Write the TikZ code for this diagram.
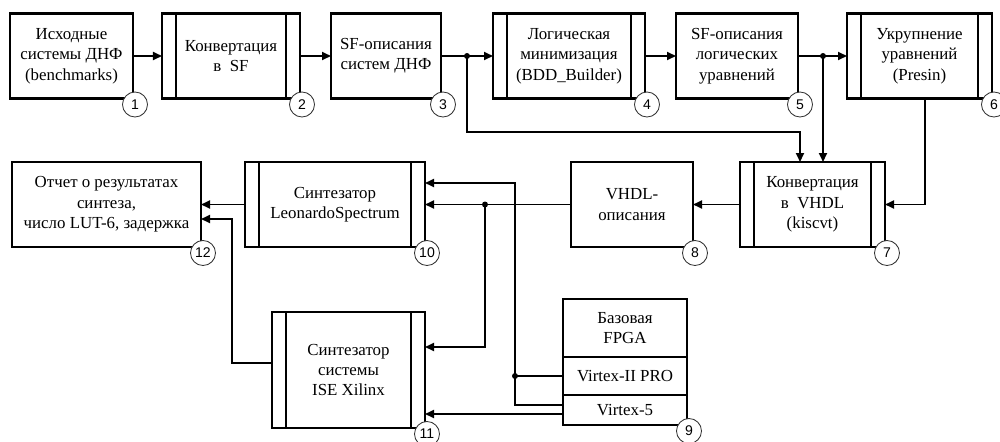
\documentclass[tikz,border=0pt]{standalone}
\usepackage{fontspec}
\setmainfont{Liberation Serif}
\newfontfamily\numfont{Liberation Sans}
\usetikzlibrary{arrows.meta}
\newlength\px
\setlength\px{0.025cm}
\tikzset{
  box/.style={draw, line width=1.5pt, align=center, inner sep=1pt, outer sep=0pt,
    minimum height=85\px, font=\fontsize{12}{14.5}\selectfont},
  procbox/.style={box, path picture={
    \draw[line width=1.3pt]
      ([xshift=14\px]path picture bounding box.north west) -- ([xshift=14\px]path picture bounding box.south west)
      ([xshift=-14\px]path picture bounding box.north east) -- ([xshift=-14\px]path picture bounding box.south east);}},
  numc/.style={circle, draw=black!80, line width=0.6pt, fill=white, minimum size=25\px,
    inner sep=0pt, font=\numfont\fontsize{10}{10}\selectfont},
  link/.style={line width=1.4pt},
  arr/.style={link, -{Triangle[length=0.225cm,width=0.2cm]}},
  jdot/.style={circle, fill, inner sep=0pt, minimum size=6\px},
}
\newcommand{\stepno}[2]{\path (#1.south east) ++(2,6) node[numc] {#2};}
\begin{document}
\begin{tikzpicture}[x=0.025cm, y=-0.025cm]
\useasboundingbox (0,0) rectangle (1000,441);
% upper row
\node[box, minimum width=123\px] (src) at (71.5,56) {Исходные\\системы ДНФ\\(benchmarks)};
\node[procbox, minimum width=138\px] (conv) at (231,56) {Конвертация\\в~~SF};
\node[box, minimum width=110\px] (sfdnf) at (386,56) {SF-описания\\систем ДНФ};
\node[procbox, minimum width=152\px] (minim) at (569,56) {Логическая\\минимизация\\(BDD\_Builder)};
\node[box, minimum width=122\px] (sfeq) at (737,56) {SF-описания\\логических\\уравнений};
\node[procbox, minimum width=145\px] (presin) at (919.5,56) {Укрупнение\\уравнений\\(Presin)};
% middle row
\node[procbox, minimum width=145\px] (kiscvt) at (812.5,204.5) {Конвертация\\в~~VHDL\\(kiscvt)};
\node[box, minimum width=122\px] (vhdl) at (632,204.5) {VHDL-\\описания};
\node[procbox, minimum width=180\px] (leo) at (335,204.5) {Синтезатор\\LeonardoSpectrum};
\node[box, minimum width=189\px] (report) at (106.5,204.5) {Отчет о результатах\\синтеза,\\число LUT-6, задержка};
% lower row
\node[procbox, minimum width=153\px, minimum height=116\px] (ise) at (348.5,370) {Синтезатор\\системы\\ISE Xilinx};
\node[box, minimum width=124\px, minimum height=58\px] (fpga) at (625,328) {Базовая\\FPGA};
\node[box, minimum width=124\px, minimum height=38\px, anchor=north] (v2) at (fpga.south) {Virtex-II PRO};
\node[box, minimum width=124\px, minimum height=30\px, anchor=north] (v5) at (v2.south) {Virtex-5};
% turning points
\coordinate (j1) at (467,56);
\coordinate (j2) at (823,56);
\coordinate (j3) at (485,204.5);
\coordinate (j4) at (515,376);
\coordinate (k1) at (800,132);
\coordinate (k2) at (925,204.5);
\coordinate (k3) at (485,347);
\coordinate (k4) at (515,405);
\coordinate (k5) at (515,183);
\coordinate (k6) at (563,414);
\coordinate (k7) at (232,363);
\coordinate (k8) at (232,219);
% connectors
\draw[arr] (src) -- (conv);
\draw[arr] (conv) -- (sfdnf);
\draw[arr] (sfdnf) -- (minim);
\draw[arr] (j1) |- (k1) -- (k1 |- kiscvt.north);
\draw[arr] (minim) -- (sfeq);
\draw[arr] (sfeq) -- (presin);
\draw[arr] (j2) -- (j2 |- kiscvt.north);
\draw[arr] (k2 |- presin.south) -- (k2) -- (kiscvt.east);
\draw[arr] (kiscvt) -- (vhdl);
\draw[arr] (vhdl) -- (leo);
\draw[arr] (j3) -- (k3) -- (k3 -| ise.east);
\draw[link] (v2) -- (j4);
\draw[arr] (k4 -| v5.west) -- (k4) -- (k5) -- (k5 -| leo.east);
\draw[arr] (k6 -| v5.west) -- (k6 -| ise.east);
\draw[arr] (leo) -- (report);
\draw[arr] (k7 -| ise.west) -- (k7) -- (k8) -- (k8 -| report.east);
\foreach \j in {j1,j2,j3,j4} \node[jdot] at (\j) {};
% step numbers
\stepno{src}{1}
\stepno{conv}{2}
\stepno{sfdnf}{3}
\stepno{minim}{4}
\stepno{sfeq}{5}
\stepno{presin}{6}
\stepno{kiscvt}{7}
\stepno{vhdl}{8}
\stepno{v5}{9}
\stepno{leo}{10}
\stepno{ise}{11}
\stepno{report}{12}
\end{tikzpicture}
\end{document}
